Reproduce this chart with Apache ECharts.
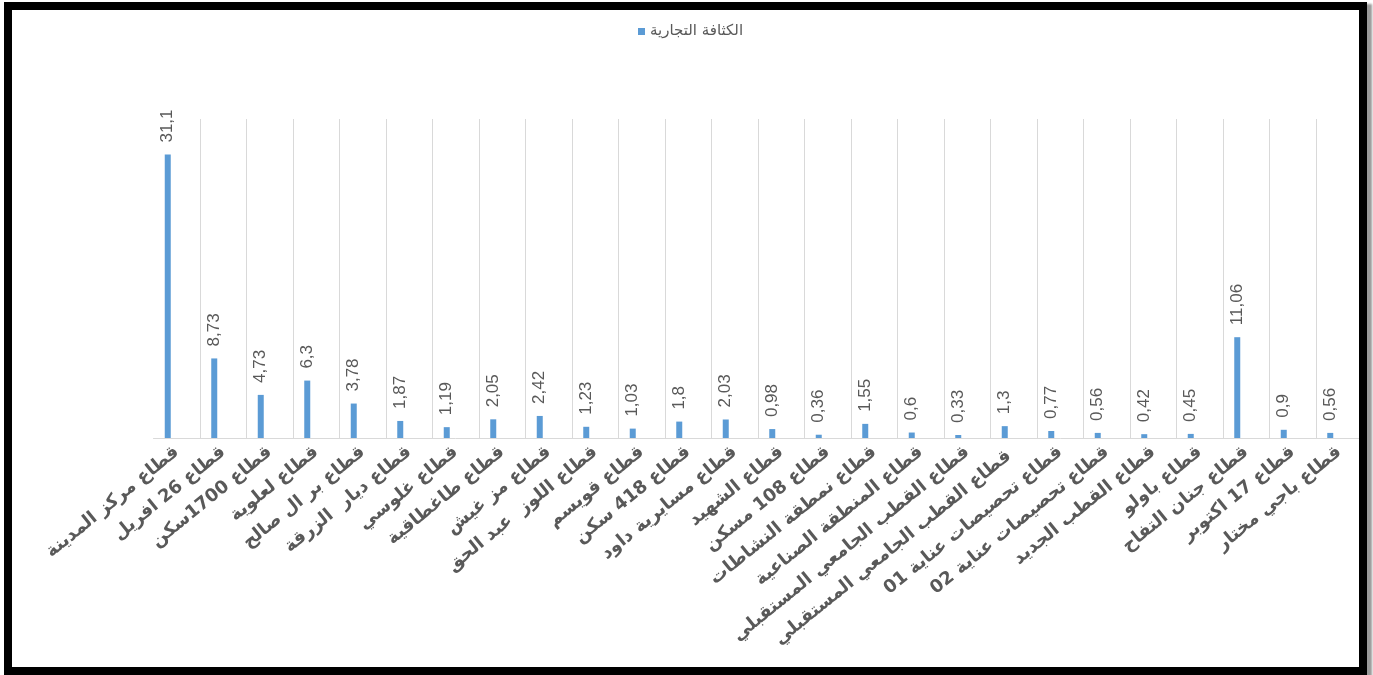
<!DOCTYPE html>
<html>
<head>
<meta charset="utf-8">
<script src="https://cdn.jsdelivr.net/npm/echarts@6/dist/echarts.min.js"></script>
<style>
  html, body { margin: 0; padding: 0; background: #ffffff; overflow: hidden; }
  #chart { position: absolute; left: 0; top: 0; width: 1373px; height: 675px; }
  #frame { position: absolute; left: 4px; top: 2px; width: 1347px; height: 657px;
           border: 8px solid #000; box-shadow: 5px 2px 2px #9a9a9a; pointer-events: none; }
</style>
</head>
<body>
<div id="chart"></div>
<div id="frame"></div>
<script>
const seriesName = 'الكثافة التجارية';
const categories = [
  'قطاع مركز المدينة',
  'قطاع 26 افريل',
  'قطاع 1700سكن',
  'قطاع لعلوية',
  'قطاع بر ال صالح',
  'قطاع ديار  الزرقة',
  'قطاع غلوسي',
  'قطاع طاغطاقية',
  'قطاع مز غيش',
  'قطاع اللوز  عبد الحق',
  'قطاع قويسم',
  'قطاع 418 سكن',
  'قطاع مسايرية داود',
  'قطاع الشهيد',
  'قطاع 108 مسكن',
  'قطاع نمطقة النشاطات',
  'قطاع المنطقة الصناعية',
  'قطاع القطب الجامعي المستقبلي',
  'قطاع القطب الجامعي المستقبلي ',
  'قطاع تحصيصات عناية 01',
  'قطاع تحصيصات عناية 02',
  'قطاع القطب الجديد',
  'قطاع باولو',
  'قطاع جنان التفاح',
  'قطاع 17 اكتوبر',
  'قطاع باجي مختار'
];
const values = [31.1, 8.73, 4.73, 6.3, 3.78, 1.87, 1.19, 2.05, 2.42, 1.23, 1.03, 1.8, 2.03, 0.98, 0.36, 1.55, 0.6, 0.33, 1.3, 0.77, 0.56, 0.42, 0.45, 11.06, 0.9, 0.56];
const emptyValues = categories.map(() => '-');

const chart = echarts.init(document.getElementById('chart'));
chart.setOption({
  animation: false,
  backgroundColor: '#ffffff',
  legend: {
    data: [seriesName],
    left: 633, top: 19,
    itemWidth: 7, itemHeight: 7, itemGap: 5,
    icon: 'rect',
    textStyle: { color: '#595959', fontSize: 15, fontFamily: 'DejaVu Sans' }
  },
  grid: { left: 153.5, right: 10.5, top: 119, bottom: 237, containLabel: false },
  xAxis: {
    type: 'category',
    data: categories,
    axisLine: { show: true, lineStyle: { color: '#d9d9d9', width: 1 } },
    axisTick: { show: false },
    splitLine: { show: true, interval: 0, showMinLine: false, showMaxLine: false,
                 lineStyle: { color: '#d9d9d9', width: 1 } },
    axisLabel: {
      interval: 0, rotate: 39, margin: 12,
      color: '#595959', fontSize: 18, fontWeight: 'bold', fontFamily: 'DejaVu Sans'
    }
  },
  yAxis: { type: 'value', min: 0, max: 35, show: false },
  series: [
    {
      name: seriesName,
      type: 'bar',
      data: values,
      barWidth: 6,
      barGap: '200%',
      itemStyle: { color: '#5b9bd5' },
      label: {
        show: true, position: 'top', distance: 12, rotate: 90,
        align: 'left', verticalAlign: 'middle',
        color: '#595959', fontSize: 17, fontFamily: 'Liberation Sans',
        formatter: p => String(p.value).replace('.', ',')
      }
    },
    {
      name: 'hidden',
      type: 'bar',
      data: emptyValues,
      barWidth: 6,
      itemStyle: { color: '#ed7d31' }
    }
  ]
});
</script>
</body>
</html>
